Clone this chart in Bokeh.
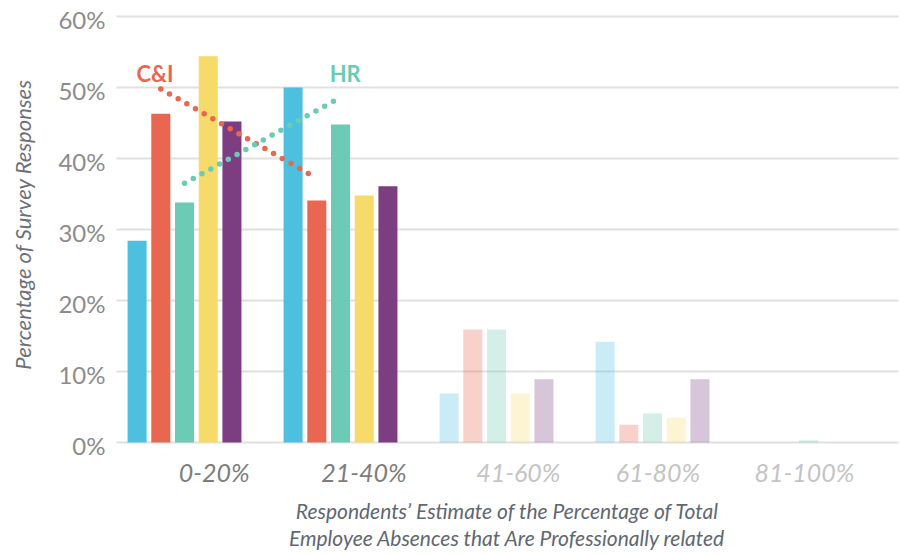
import math
from bokeh.plotting import figure
from bokeh.models import Range1d
from bokeh.embed import file_html
from bokeh.resources import INLINE
from bokeh.core.properties import value

# Survey categories (share of absences estimated to be professionally related)
ranges = ["0-20%", "21-40%", "41-60%", "61-80%", "81-100%"]

# Percentage of survey responses per respondent group
blue_vals = [28.4, 50.0, 6.9, 14.2, 0.0]
ci_vals = [46.3, 34.1, 15.9, 2.5, 0.0]
hr_vals = [33.8, 44.8, 15.9, 4.1, 0.3]
yellow_vals = [54.4, 34.8, 6.9, 3.5, 0.0]
purple_vals = [45.2, 36.1, 8.9, 8.9, 0.0]

# Dotted trend markers between the first two categories
ci_trend = [49.8, 37.2]
hr_trend = [36.5, 48.6]

y_ticks = [0, 10, 20, 30, 40, 50, 60]
y_tick_labels = ["0%", "10%", "20%", "30%", "40%", "50%", "60%"]

series = [blue_vals, ci_vals, hr_vals, yellow_vals, purple_vals]
colors = ["#4DC0E0", "#E96651", "#6CCBB4", "#F6DB6A", "#7C3E80"]
group_alpha = [1.0, 1.0, 0.3, 0.3, 0.3]
label_colors = ["#7d7d7d", "#7d7d7d", "#c4c4c4", "#c4c4c4", "#c4c4c4"]
label_shift = [0.19, 0.15, 0.14, 0.035, -0.026]

# Geometry: one category slot = 156 px, one percentage point = 7.1 px
SLOT_PX = 156.0
PCT_PX = 7.1
LEFT_PX, RIGHT_PX, BOTTOM_PX, TOP_PX = 116, 898, 442, 16
W, H = 903, 554
X_END = (RIGHT_PX - LEFT_PX) / SLOT_PX

GROUP_CENTER = 0.436
BAR_STEP = 0.152
BAR_W = 0.122
FONT = value("Lato")


def px_x(px):
    return (px - LEFT_PX) / SLOT_PX


def px_y(py):
    return (BOTTOM_PX - py) / PCT_PX


p = figure(width=W, height=H, output_backend="svg", toolbar_location=None,
           x_range=Range1d(px_x(0), px_x(W)), y_range=Range1d(px_y(H), px_y(0)),
           x_axis_location=None, y_axis_location=None,
           min_border=0)
p.outline_line_color = None
p.background_fill_color = "white"
p.border_fill_color = "white"
p.xgrid.visible = False
p.ygrid.visible = False

# Horizontal grid lines across the plotting area
p.segment(x0=[0] * len(y_ticks), x1=[X_END] * len(y_ticks),
          y0=y_ticks, y1=y_ticks, line_color="#e0e0e0", line_width=2)

# Value axis labels
p.text(x=[px_x(105)] * len(y_ticks), y=[t - 0.4 for t in y_ticks],
       text=y_tick_labels, text_font=FONT, text_font_size="24px",
       text_color="#8c8c8c", text_align="right", text_baseline="middle")
p.text(x=[px_x(22)], y=[px_y(224)], text=["Percentage of Survey Responses"],
       angle=math.pi / 2, text_font=FONT, text_font_style="italic",
       text_font_size="22px", text_color="#6b7079",
       text_align="center", text_baseline="middle")

# Grouped bars
for si, (vals, col) in enumerate(zip(series, colors)):
    xs = [gi + GROUP_CENTER + (si - 2) * BAR_STEP for gi in range(len(ranges))]
    p.vbar(x=xs, top=vals, width=BAR_W, bottom=0, fill_color=col,
           line_color=None, fill_alpha=group_alpha)

# Dotted trend lines connecting the C&I and HR bars
ci_x = [GROUP_CENTER - BAR_STEP, 1 + GROUP_CENTER - BAR_STEP]
hr_x = [GROUP_CENTER, 1 + GROUP_CENTER]
p.line(ci_x, ci_trend, line_color="#E96651", line_width=5.5,
       line_dash="0 10", line_cap="round")
p.line(hr_x, hr_trend, line_color="#6CCBB4", line_width=5.5,
       line_dash="0 10", line_cap="round")

p.text(x=[ci_x[0] - 0.037], y=[px_y(73)], text=["C&I"], text_font=FONT,
       text_font_style="bold", text_font_size="22px", text_color="#E96651",
       text_align="center", text_baseline="middle")
p.text(x=[hr_x[1] + 0.03], y=[px_y(73)], text=["HR"], text_font=FONT,
       text_font_style="bold", text_font_size="22px", text_color="#6CCBB4",
       text_align="center", text_baseline="middle")

# Category labels under each group
p.text(x=[gi + GROUP_CENTER + label_shift[gi] for gi in range(len(ranges))],
       y=[px_y(471)] * len(ranges), text=ranges, text_font=FONT,
       text_font_style="italic", text_font_size="25px",
       text_color=label_colors, text_align="center", text_baseline="middle")

# Horizontal axis title (two lines)
title_lines = ["Respondents\u2019 Estimate of the Percentage of Total",
               "Employee Absences that Are Professionally related"]
p.text(x=[px_x(507)] * 2, y=[px_y(510), px_y(537)], text=title_lines,
       text_font=FONT, text_font_style="italic", text_font_size="21px",
       text_color="#5f6771", text_align="center", text_baseline="middle")

open("out.html", "w").write(file_html(p, INLINE))
